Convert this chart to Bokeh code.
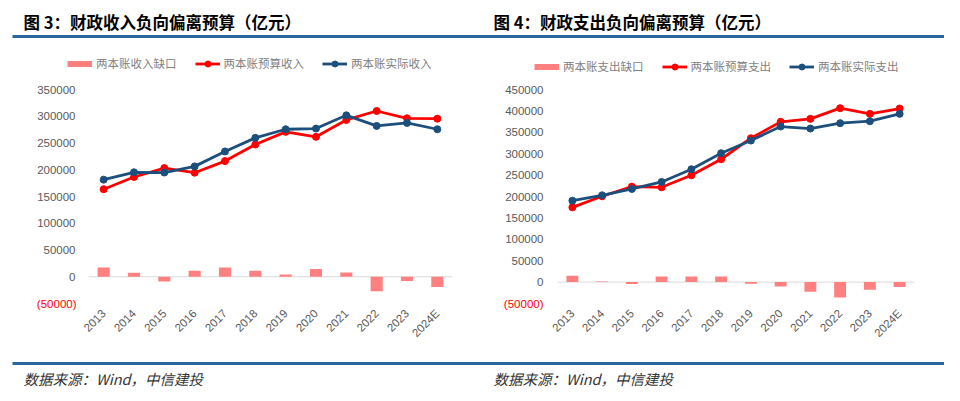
from math import pi
from bokeh.plotting import figure
from bokeh.layouts import row, column
from bokeh.models import (ColumnDataSource, FactorRange, Range1d, FixedTicker, Span, Label,
                          BoxAnnotation, Legend, LegendItem, LinearAxis, NumeralTickFormatter)
from bokeh.embed import file_html
from bokeh.resources import INLINE

# ---------------- data ----------------
years = ["2013", "2014", "2015", "2016", "2017", "2018", "2019", "2020", "2021", "2022", "2023", "2024E"]

rev_gap = [17300, 7400, -8700, 11200, 17300, 11200, 4300, 14300, 8000, -27300, -8000, -19200]
rev_budget = [163600, 186500, 203200, 194500, 216200, 247200, 270800, 261500, 293100, 309800, 296200, 295500]
rev_actual = [181500, 195200, 194800, 206300, 234200, 259600, 275700, 277000, 301700, 281900, 287500, 275700]

exp_gap = [14800, 1500, -4700, 13300, 13300, 13300, -3900, -10100, -22600, -35900, -17900, -11700]
exp_budget = [174700, 200500, 223100, 221500, 249600, 287000, 336200, 374400, 381400, 406400, 393100, 405600]
exp_actual = [190300, 202800, 217600, 234000, 263700, 301100, 330700, 363500, 358800, 371300, 376000, 393100]

rev_ticks = [0, 50000, 100000, 150000, 200000, 250000, 300000, 350000]
exp_ticks = [0, 50000, 100000, 150000, 200000, 250000, 300000, 350000, 400000, 450000]
neg_tick = [-50000]
neg_label = "(50000)"

rev_title = "图 3：财政收入负向偏离预算（亿元）"
exp_title = "图 4：财政支出负向偏离预算（亿元）"
rev_labels = ["两本账收入缺口", "两本账预算收入", "两本账实际收入"]
exp_labels = ["两本账支出缺口", "两本账预算支出", "两本账实际支出"]
source_text = "数据来源：Wind，中信建投"

RED = "#FF0000"
BLUE = "#1C4F7C"
PINK = "#FF8080"
GREY = "#595959"
RULE = "#28679E"
CJK = "Noto Sans CJK SC"
LATIN = "Liberation Sans"
W = 944
NAN = float("nan")


def make_chart(gap, budget, actual, ticks, borders, standoff, neg_standoff):
    bl, br, bt, bb = borders
    src = ColumnDataSource(dict(year=years, gap=gap, budget=budget, actual=actual))
    p = figure(width=472, height=277, output_backend="svg", toolbar_location=None,
               x_range=FactorRange(factors=years, range_padding=0),
               y_range=Range1d(neg_tick[0], ticks[-1]),
               min_border_left=bl, min_border_right=br, min_border_top=bt, min_border_bottom=bb)
    p.outline_line_color = None
    p.background_fill_color = "white"
    p.border_fill_color = "white"
    p.xgrid.visible = False
    p.ygrid.visible = False

    p.add_layout(Span(location=0, dimension="width", line_color="#D9D9D9", line_width=1, level="underlay"))

    p.vbar(x="year", top="gap", bottom=0, width=0.4, source=src, fill_color=PINK, line_color=None)
    p.line(x="year", y="budget", source=src, line_color=RED, line_width=2.8)
    p.scatter(x="year", y="budget", source=src, size=7, fill_color=RED, line_color=RED)
    p.line(x="year", y="actual", source=src, line_color=BLUE, line_width=2.8)
    p.scatter(x="year", y="actual", source=src, size=7, fill_color=BLUE, line_color=BLUE)

    def style_y(ax, so, color):
        ax.axis_line_color = None
        ax.major_tick_line_color = None
        ax.minor_tick_line_color = None
        ax.major_tick_out = 0
        ax.major_tick_in = 0
        ax.minor_tick_out = 0
        ax.major_label_standoff = so
        ax.major_label_text_color = color
        ax.major_label_text_font = LATIN
        ax.major_label_text_font_size = "11.5px"

    ya = p.yaxis[0]
    ya.ticker = FixedTicker(ticks=ticks)
    ya.formatter = NumeralTickFormatter(format="0")
    style_y(ya, standoff, GREY)

    neg_axis = LinearAxis(ticker=FixedTicker(ticks=neg_tick),
                          major_label_overrides={neg_tick[0]: neg_label})
    style_y(neg_axis, neg_standoff, RED)
    p.add_layout(neg_axis, "left")

    xa = p.xaxis[0]
    xa.axis_line_color = None
    xa.major_tick_line_color = None
    xa.minor_tick_line_color = None
    xa.major_tick_out = 0
    xa.major_label_orientation = pi / 4
    xa.major_label_standoff = 8
    xa.major_label_text_color = GREY
    xa.major_label_text_font = LATIN
    xa.major_label_text_font_size = "11.5px"
    return p


def make_band(height):
    b = figure(width=W, height=height, output_backend="svg", toolbar_location=None,
               x_range=Range1d(0, W), y_range=Range1d(height, 0),
               x_axis_type=None, y_axis_type=None, min_border=0)
    b.outline_line_color = None
    b.background_fill_color = "white"
    b.border_fill_color = "white"
    return b


def add_text(b, x, y, t, style, size, color):
    b.add_layout(Label(x=x, y=y, text=t, text_baseline="middle", text_font=CJK,
                       text_font_style=style, text_font_size=size, text_color=color))


def add_rule(b, top, bottom):
    b.add_layout(BoxAnnotation(left=12, right=W, top=top, bottom=bottom,
                               fill_color=RULE, fill_alpha=1, line_color=None))


def add_legend(b, labels, loc):
    # legend keys only (single empty point each): the series themselves live in the charts
    proxy_bar = b.line(x=[NAN], y=[NAN], line_color=PINK, line_width=6)
    r_line = b.line(x=[NAN], y=[NAN], line_color=RED, line_width=2.8)
    r_pts = b.scatter(x=[NAN], y=[NAN], size=7, fill_color=RED, line_color=RED)
    b_line = b.line(x=[NAN], y=[NAN], line_color=BLUE, line_width=2.8)
    b_pts = b.scatter(x=[NAN], y=[NAN], size=7, fill_color=BLUE, line_color=BLUE)
    legend = Legend(items=[LegendItem(label=labels[0], renderers=[proxy_bar]),
                           LegendItem(label=labels[1], renderers=[r_line, r_pts]),
                           LegendItem(label=labels[2], renderers=[b_line, b_pts])],
                    orientation="horizontal", location=loc,
                    border_line_color=None, background_fill_alpha=0,
                    padding=0, margin=0, spacing=18, glyph_width=25, glyph_height=15,
                    label_height=15, label_standoff=4,
                    label_text_font=CJK, label_text_font_size="11.5px", label_text_color="#7F7F7F")
    b.add_layout(legend)


HEADER_H = 78
header = make_band(HEADER_H)
add_text(header, 23, 21, rev_title, "bold", "16.5px", "black")
add_text(header, 493, 21, exp_title, "bold", "16.5px", "black")
add_rule(header, 34.5, 37.5)
add_legend(header, rev_labels, (67, HEADER_H - 56 - 15))
add_legend(header, exp_labels, (534, HEADER_H - 59 - 15))

p1 = make_chart(rev_gap, rev_budget, rev_actual, rev_ticks, (88, 20, 10, 51), 13, -42)
p2 = make_chart(exp_gap, exp_budget, exp_actual, exp_ticks, (85, 30, 11, 52), 14, -41)

footer = make_band(38)
add_rule(footer, 6.5, 9.5)
add_text(footer, 23, 23, source_text, "italic", "14.5px", "#333333")
add_text(footer, 493, 23, source_text, "italic", "14.5px", "#333333")

layout = column(header, row(p1, p2), footer)
open("out.html", "w").write(file_html(layout, INLINE))
